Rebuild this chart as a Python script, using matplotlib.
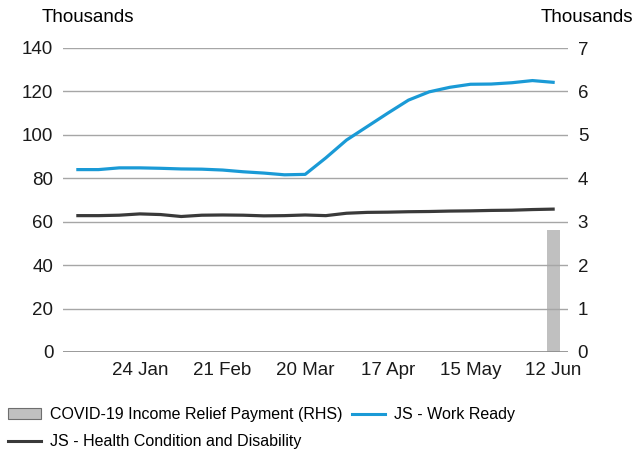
import matplotlib.pyplot as plt
from matplotlib.patches import Patch
from matplotlib.lines import Line2D

plt.rcParams['font.family'] = ['Liberation Sans', 'DejaVu Sans']

# weekly, 3 Jan to 12 Jun 2020
weeks = ['3 Jan', '10 Jan', '17 Jan', '24 Jan', '31 Jan', '7 Feb', '14 Feb', '21 Feb',
         '28 Feb', '6 Mar', '13 Mar', '20 Mar', '27 Mar', '3 Apr', '10 Apr', '17 Apr',
         '24 Apr', '1 May', '8 May', '15 May', '22 May', '29 May', '5 Jun', '12 Jun']
work_ready = [84.0, 84.0, 84.8, 84.8, 84.6, 84.3, 84.2, 83.8, 83.0, 82.4, 81.6, 81.8,
              89.4, 97.6, 103.8, 110.0, 116.0, 119.8, 121.9, 123.3, 123.4, 124.0, 125.0, 124.2]
health_disab = [62.8, 62.8, 63.0, 63.6, 63.3, 62.4, 63.0, 63.1, 63.0, 62.7, 62.8, 63.1,
                62.8, 63.9, 64.3, 64.4, 64.6, 64.7, 64.9, 65.0, 65.2, 65.3, 65.6, 65.8]
relief_payment = [0] * 23 + [2.8]  # RHS, thousands
tick_idx = [3, 7, 11, 15, 19, 23]

BLUE = '#1a9ad6'
DARK = '#3a3a3a'
BARC = '#c0c0c0'
GRID = '#a6a6a6'

fig = plt.figure(figsize=(6.34, 4.53), dpi=100)
ax = fig.add_axes([63 / 634, 1 - 352 / 453, 505 / 634, 304 / 453])
ax2 = ax.twinx()

x = list(range(len(weeks)))
ax2.bar(x, relief_payment, width=0.63, color=BARC, zorder=1)
ax.plot(x, work_ready, color=BLUE, lw=2.3, zorder=3)
ax.plot(x, health_disab, color=DARK, lw=2.3, zorder=3)

ax.set_zorder(ax2.get_zorder() + 1)
ax.patch.set_visible(False)

ax.set_xlim(-0.72, 23.72)
ax.set_ylim(0, 140)
ax2.set_ylim(0, 7)
ax.set_yticks(range(0, 141, 20))
ax2.set_yticks(range(0, 8))
ax.set_xticks(tick_idx)
ax.set_xticklabels([weeks[i] for i in tick_idx])

for a in (ax, ax2):
    for s in a.spines.values():
        s.set_visible(False)
    a.tick_params(axis='both', labelsize=13.5, length=0, colors='#1a1a1a')
ax.tick_params(axis='y', pad=7)
ax2.tick_params(axis='y', pad=7)
ax.tick_params(axis='x', pad=7)
ax.grid(axis='y', color=GRID, lw=1)
ax.axhline(0, color='#8c8c8c', lw=1.2)

fig.text(42 / 634, 1 - 18 / 453, 'Thousands', fontsize=13.5, va='center', ha='left')
fig.text(633 / 634, 1 - 18 / 453, 'Thousands', fontsize=13.5, va='center', ha='right')

handles = [Patch(facecolor=BARC, edgecolor='#6e6e6e', lw=0.8),
           Line2D([], [], color=DARK, lw=2.2),
           Line2D([], [], color=BLUE, lw=2.2)]
labels = ['COVID-19 Income Relief Payment (RHS)', 'JS - Health Condition and Disability',
          'JS - Work Ready']
fig.legend(handles, labels, ncol=2, loc='upper left', bbox_to_anchor=(5 / 634, 1 - 404 / 453),
           frameon=False, fontsize=11.5, handlelength=2.07, handletextpad=0.56,
           columnspacing=0.6, labelspacing=0.75, borderaxespad=0, borderpad=0.2)

fig.savefig('out.png', dpi=100)
